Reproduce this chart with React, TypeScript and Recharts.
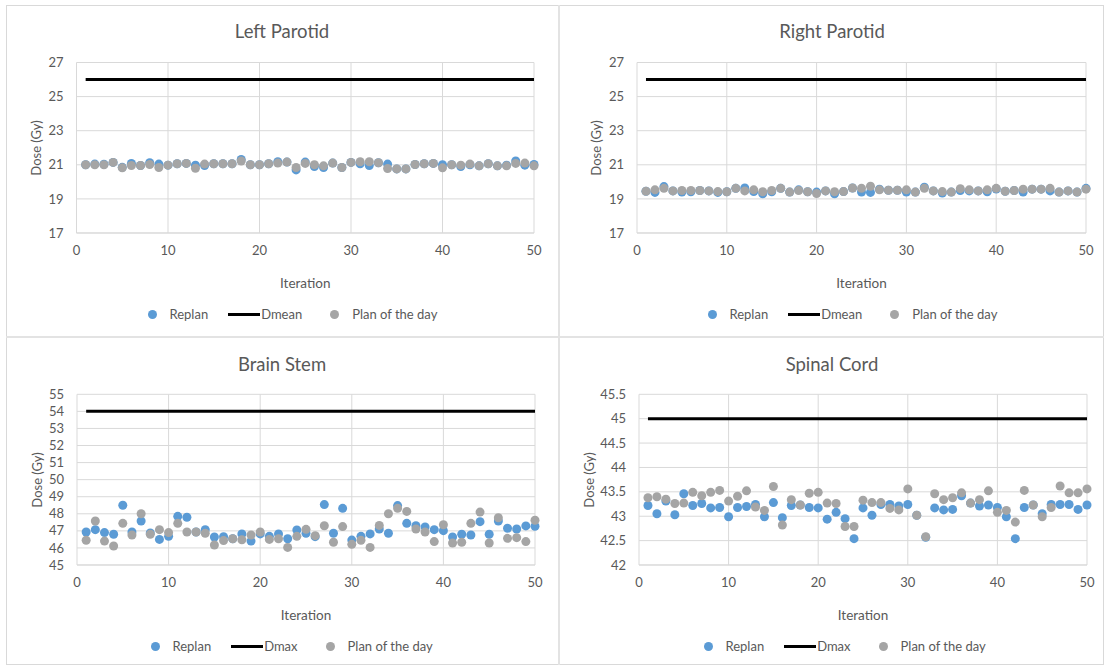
import React from "react";
import { ComposedChart, Scatter, Line, XAxis, YAxis, CartesianGrid } from "recharts";

// One value per iteration (1..50).
const leftReplan = [
  21.0, 21.04, 21.03, 21.14, 20.85, 21.08, 20.96, 21.12, 21.04, 20.98,
  21.06, 21.08, 20.98, 20.96, 21.06, 21.06, 21.06, 21.31, 21.0, 21.0,
  21.06, 21.18, 21.16, 20.7, 21.16, 20.9, 20.84, 21.1, 20.84, 21.14,
  21.06, 20.96, 21.12, 21.04, 20.76, 20.76, 21.02, 21.06, 21.08, 21.0,
  21.0, 20.9, 21.0, 20.94, 21.06, 20.94, 20.98, 21.22, 20.98, 21.02,
];
const leftPotd = [
  21.0, 21.0, 21.0, 21.14, 20.82, 20.96, 20.96, 21.02, 20.84, 20.98,
  21.06, 21.08, 20.8, 21.04, 21.06, 21.06, 21.06, 21.22, 21.0, 21.0,
  21.06, 21.1, 21.16, 20.84, 21.08, 21.0, 20.94, 21.1, 20.84, 21.14,
  21.18, 21.18, 21.12, 20.78, 20.76, 20.76, 21.02, 21.06, 21.08, 20.82,
  21.0, 20.98, 21.04, 20.94, 21.06, 20.94, 20.94, 21.08, 21.1, 20.94,
];
const rightReplan = [
  19.45, 19.38, 19.72, 19.47, 19.4, 19.42, 19.49, 19.47, 19.38, 19.42,
  19.62, 19.64, 19.43, 19.3, 19.42, 19.62, 19.4, 19.53, 19.42, 19.4,
  19.47, 19.3, 19.43, 19.64, 19.4, 19.38, 19.57, 19.51, 19.51, 19.4,
  19.4, 19.68, 19.47, 19.34, 19.4, 19.49, 19.47, 19.47, 19.42, 19.58,
  19.45, 19.49, 19.4, 19.57, 19.57, 19.47, 19.4, 19.47, 19.4, 19.62,
];
const rightPotd = [
  19.45, 19.53, 19.62, 19.47, 19.49, 19.49, 19.49, 19.47, 19.43, 19.42,
  19.62, 19.47, 19.53, 19.42, 19.49, 19.62, 19.4, 19.49, 19.42, 19.32,
  19.47, 19.42, 19.43, 19.64, 19.62, 19.74, 19.53, 19.51, 19.51, 19.53,
  19.4, 19.62, 19.47, 19.43, 19.4, 19.6, 19.53, 19.47, 19.53, 19.62,
  19.45, 19.49, 19.57, 19.57, 19.57, 19.62, 19.4, 19.47, 19.4, 19.57,
];
const brainReplan = [
  46.93, 47.07, 46.9, 46.8, 48.5, 46.93, 47.58, 46.88, 46.5, 46.68,
  47.85, 47.8, 46.93, 47.07, 46.64, 46.66, 46.54, 46.82, 46.4, 46.82,
  46.68, 46.82, 46.54, 47.05, 46.86, 46.66, 48.54, 46.86, 48.32, 46.46,
  46.68, 46.82, 47.11, 46.86, 48.48, 47.44, 47.3, 47.23, 47.07, 47.01,
  46.64, 46.8, 46.76, 47.54, 46.8, 47.58, 47.15, 47.11, 47.29, 47.27,
];
const brainPotd = [
  46.45, 47.58, 46.4, 46.11, 47.44, 46.76, 48.0, 46.8, 47.07, 46.9,
  47.44, 46.93, 46.93, 46.86, 46.17, 46.43, 46.54, 46.48, 46.76, 46.93,
  46.5, 46.54, 46.03, 46.68, 47.09, 46.72, 47.3, 46.33, 47.25, 46.21,
  46.45, 46.03, 47.32, 48.0, 48.32, 48.14, 47.11, 46.93, 46.37, 47.36,
  46.29, 46.33, 47.44, 48.1, 46.29, 47.77, 46.56, 46.6, 46.37, 47.62,
];
const cordReplan = [
  43.22, 43.05, 43.31, 43.03, 43.46, 43.22, 43.26, 43.17, 43.18, 42.99,
  43.18, 43.2, 43.24, 42.99, 43.28, 42.97, 43.22, 43.23, 43.18, 43.17,
  42.94, 43.08, 42.95, 42.54, 43.17, 43.02, 43.24, 43.24, 43.21, 43.24,
  43.02, 42.57, 43.17, 43.13, 43.14, 43.42, 43.27, 43.21, 43.23, 43.18,
  42.99, 42.54, 43.18, 43.23, 43.05, 43.24, 43.24, 43.24, 43.14, 43.23,
];
const cordPotd = [
  43.38, 43.4, 43.35, 43.26, 43.27, 43.49, 43.42, 43.49, 43.53, 43.31,
  43.41, 43.52, 43.19, 43.12, 43.61, 42.82, 43.34, 43.23, 43.47, 43.49,
  43.27, 43.26, 42.79, 42.79, 43.33, 43.28, 43.28, 43.16, 43.13, 43.56,
  43.02, 42.58, 43.46, 43.34, 43.38, 43.48, 43.27, 43.34, 43.52, 43.08,
  43.12, 42.88, 43.53, 43.23, 42.99, 43.18, 43.62, 43.48, 43.48, 43.56,
];

const xTicks = [0, 10, 20, 30, 40, 50];
const parotidTicks = [17, 19, 21, 23, 25, 27];
const brainTicks = [45, 46, 47, 48, 49, 50, 51, 52, 53, 54, 55];
const cordTicks = [42, 42.5, 43, 43.5, 44, 44.5, 45, 45.5];

const BLUE = "#5B9BD5";
const GRAY = "#A5A5A5";
const TEXT = "#595959";
const GRID = "#D9D9D9";
const FONT = "Lato, 'Open Sans', sans-serif";

type Box = { left: number; top: number; width: number; height: number };
type Plot = { left: number; right: number; top: number; bottom: number };

function Dot({ cx, cy, fill }: { cx?: number; cy?: number; fill: string }) {
  if (cx == null || cy == null) return null;
  return <circle cx={cx} cy={cy} r={4.5} fill={fill} />;
}

function Panel({
  box,
  plot,
  title,
  limitName,
  limit,
  replan,
  potd,
  yTicks,
  yTitleX,
  legendX,
}: {
  box: Box;
  plot: Plot;
  title: string;
  limitName: string;
  limit: number;
  replan: number[];
  potd: number[];
  yTicks: number[];
  yTitleX: number;
  legendX: number;
}) {
  const rows = replan.map((v, i) => ({ iter: i + 1, replan: v, potd: potd[i], limit }));
  const xAxisH = 30;
  const margin = {
    top: plot.top - box.top,
    right: box.left + box.width - plot.right,
    bottom: box.top + box.height - plot.bottom - xAxisH,
    left: 0,
  };
  const yAxisW = plot.left - box.left;
  const plotCx = (plot.left + plot.right) / 2 - box.left;

  return (
    <div style={{ position: "absolute", left: box.left, top: box.top, width: box.width, height: box.height, fontFamily: FONT, color: TEXT }}>
      <div style={{ position: "absolute", left: 0, width: box.width, top: 14, textAlign: "center", fontSize: 18.5, lineHeight: "24px" }}>
        {title}
      </div>
      <div
        style={{
          position: "absolute",
          left: yTitleX - box.left,
          top: (plot.top + plot.bottom) / 2 - box.top,
          transform: "translate(-50%, -50%) rotate(-90deg)",
          fontSize: 13,
          whiteSpace: "nowrap",
        }}
      >
        Dose (Gy)
      </div>
      <div style={{ position: "absolute", left: plotCx, top: plot.bottom - box.top + 41, transform: "translateX(-50%)", fontSize: 13.5, lineHeight: "18px" }}>
        Iteration
      </div>
      <div style={{ position: "absolute", left: legendX - box.left, top: plot.bottom - box.top + 72, display: "flex", alignItems: "center", fontSize: 13, lineHeight: "18px", whiteSpace: "nowrap" }}>
        <span style={{ width: 9, height: 9, borderRadius: "50%", background: BLUE, display: "inline-block" }} />
        <span style={{ marginLeft: 13 }}>Replan</span>
        <span style={{ marginLeft: 20, width: 32, height: 3, background: "#000", display: "inline-block" }} />
        <span style={{ marginLeft: 1 }}>{limitName}</span>
        <span style={{ marginLeft: 28, width: 9, height: 9, borderRadius: "50%", background: GRAY, display: "inline-block" }} />
        <span style={{ marginLeft: 13 }}>Plan of the day</span>
      </div>
      <ComposedChart width={box.width} height={box.height} data={rows} margin={margin} style={{ position: "absolute", left: 0, top: 0 }}>
        <CartesianGrid stroke={GRID} strokeWidth={1} />
        <XAxis
          dataKey="iter"
          type="number"
          domain={[0, 50]}
          ticks={xTicks}
          height={xAxisH}
          tickLine={false}
          axisLine={{ stroke: GRID }}
          tickMargin={6.5}
          tick={{ fontSize: 13, fill: TEXT, fontFamily: FONT }}
        />
        <YAxis
          type="number"
          domain={[yTicks[0], yTicks[yTicks.length - 1]]}
          ticks={yTicks}
          width={yAxisW}
          tickLine={false}
          axisLine={false}
          tickMargin={7}
          interval={0}
          tick={{ fontSize: 13, fill: TEXT, fontFamily: FONT }}
        />
        <Scatter dataKey="replan" fill={BLUE} shape={(p: any) => <Dot cx={p.cx} cy={p.cy} fill={BLUE} />} isAnimationActive={false} />
        <Line dataKey="limit" type="linear" stroke="#000" strokeWidth={3} dot={false} activeDot={false} isAnimationActive={false} />
        <Scatter dataKey="potd" fill={GRAY} shape={(p: any) => <Dot cx={p.cx} cy={p.cy} fill={GRAY} />} isAnimationActive={false} />
      </ComposedChart>
    </div>
  );
}

export default function App() {
  return (
    <div style={{ position: "absolute", left: 0, top: 0, width: 1105, height: 666, background: "#fff", overflow: "hidden" }}>
      <div style={{ position: "absolute", left: 6, top: 5, width: 1098, height: 660, boxSizing: "border-box", border: `1px solid ${GRID}` }} />
      <div style={{ position: "absolute", left: 558, top: 5, width: 2, height: 660, background: "#E3E3E3" }} />
      <div style={{ position: "absolute", left: 6, top: 336, width: 1098, height: 2, background: "#E3E3E3" }} />
      <Panel
        box={{ left: 6, top: 5, width: 552, height: 331 }}
        plot={{ left: 76.5, right: 534, top: 62.5, bottom: 233 }}
        title="Left Parotid"
        limitName="Dmean"
        limit={26}
        replan={leftReplan}
        potd={leftPotd}
        yTicks={parotidTicks}
        yTitleX={36}
        legendX={147.5}
      />
      <Panel
        box={{ left: 560, top: 5, width: 544, height: 331 }}
        plot={{ left: 637, right: 1086, top: 62.5, bottom: 233 }}
        title="Right Parotid"
        limitName="Dmean"
        limit={26}
        replan={rightReplan}
        potd={rightPotd}
        yTicks={parotidTicks}
        yTitleX={596}
        legendX={707.5}
      />
      <Panel
        box={{ left: 6, top: 338, width: 552, height: 327 }}
        plot={{ left: 77, right: 535, top: 394.3, bottom: 565 }}
        title="Brain Stem"
        limitName="Dmax"
        limit={54}
        replan={brainReplan}
        potd={brainPotd}
        yTicks={brainTicks}
        yTitleX={37}
        legendX={150.5}
      />
      <Panel
        box={{ left: 560, top: 338, width: 544, height: 327 }}
        plot={{ left: 639, right: 1087, top: 394.3, bottom: 565 }}
        title="Spinal Cord"
        limitName="Dmax"
        limit={45}
        replan={cordReplan}
        potd={cordPotd}
        yTicks={cordTicks}
        yTitleX={589}
        legendX={703.5}
      />
    </div>
  );
}
